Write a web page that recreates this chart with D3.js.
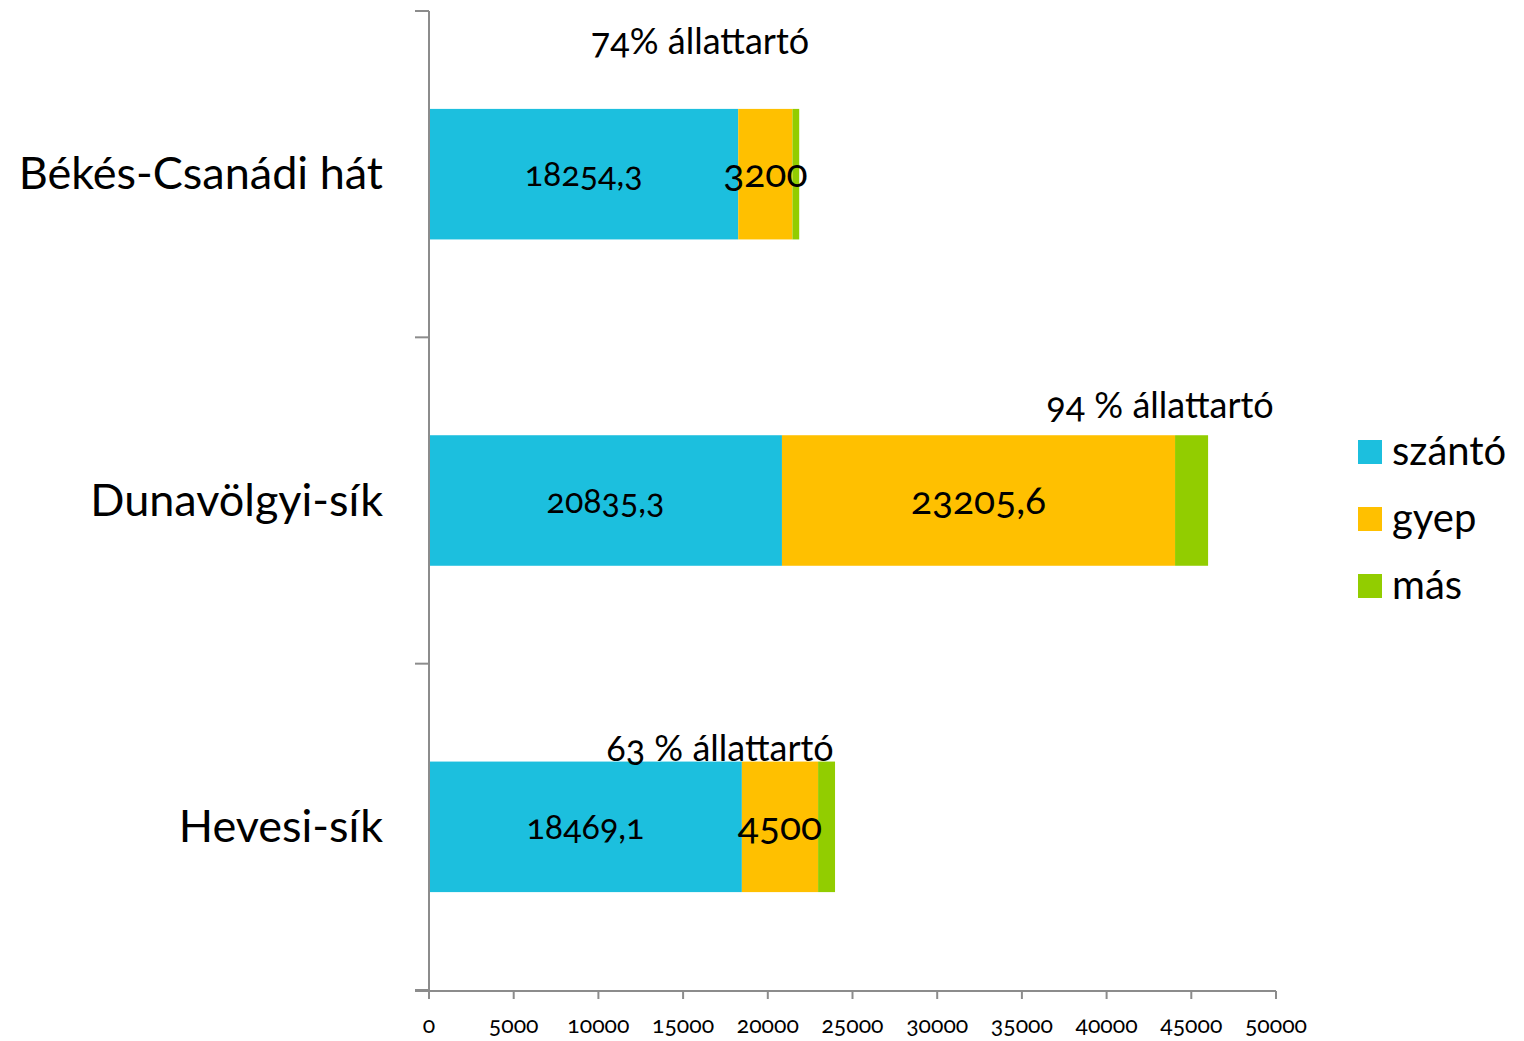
<!DOCTYPE html>
<html>
<head>
<meta charset="utf-8">
<script src="https://cdn.jsdelivr.net/npm/d3@7"></script>
<style>
  html, body { margin: 0; padding: 0; background: #fff; }
  svg text { font-family: Lato, "Open Sans", sans-serif; font-variant-numeric: oldstyle-nums; font-feature-settings: "onum" 1; fill: #000; }
</style>
</head>
<body>
<svg id="chart" width="1524" height="1041"></svg>
<script>
const categories = ["Békés-Csanádi hát", "Dunavölgyi-sík", "Hevesi-sík"];
const seriesNames = ["szántó", "gyep", "más"];
const szanto = [18254.3, 20835.3, 18469.1];
const gyep = [3200, 23205.6, 4500];
const mas = [400, 1950, 1000];
const szantoLabels = ["18254,3", "20835,3", "18469,1"];
const gyepLabels = ["3200", "23205,6", "4500"];
const notes = ["74% állattartó", "94 % állattartó", "63 % állattartó"];
const xTicks = [0, 5000, 10000, 15000, 20000, 25000, 30000, 35000, 40000, 45000, 50000];
const colors = ["#1cbfde", "#ffc000", "#92cd00"];

const svg = d3.select("#chart");
const x = d3.scaleLinear().domain([0, 50000]).range([429, 1276]);
const y = d3.scaleBand().domain(categories).range([11, 990]).paddingInner(0.6).paddingOuter(0.3);
const yb = d3.scaleBand().domain(categories).range([11, 990]);

const rows = categories.map((c, i) => ({cat: c, "szántó": szanto[i], "gyep": gyep[i], "más": mas[i]}));
const stack = d3.stack().keys(seriesNames)(rows);

const g = svg.append("g");
stack.forEach((layer, li) => {
  g.selectAll(null).data(layer).enter().append("rect")
    .attr("x", d => x(d[0]))
    .attr("width", d => x(d[1]) - x(d[0]))
    .attr("y", d => y(d.data.cat))
    .attr("height", y.bandwidth())
    .attr("fill", colors[li]);
});

// axes
const axisColor = "#8c8c8c";
svg.append("line").attr("x1", 429).attr("x2", 429).attr("y1", 11).attr("y2", 991).attr("stroke", axisColor).attr("stroke-width", 2);
[11].concat(categories.map(c => yb(c) + yb.bandwidth())).forEach(v => {
  svg.append("line").attr("x1", 415).attr("x2", 429).attr("y1", v).attr("y2", v).attr("stroke", axisColor).attr("stroke-width", 2);
});
svg.append("line").attr("x1", 415).attr("x2", 1276).attr("y1", 991).attr("y2", 991).attr("stroke", axisColor).attr("stroke-width", 2);
xTicks.forEach(t => {
  svg.append("line").attr("x1", x(t)).attr("x2", x(t)).attr("y1", 991).attr("y2", 999).attr("stroke", axisColor).attr("stroke-width", 2);
  svg.append("text").attr("x", x(t)).attr("y", 1033).attr("text-anchor", "middle").attr("font-size", 23).text(t);
});

// category labels
categories.forEach(c => {
  svg.append("text").attr("x", 383).attr("y", yb(c) + yb.bandwidth() / 2 + 15)
    .attr("text-anchor", "end").attr("font-size", 45).text(c);
});

// data labels
categories.forEach((c, i) => {
  const yc = y(c) + y.bandwidth() / 2 + 12;
  svg.append("text").attr("x", (x(0) + x(szanto[i])) / 2).attr("y", yc)
    .attr("text-anchor", "middle").attr("font-size", 34).text(szantoLabels[i]);
  svg.append("text").attr("x", (x(szanto[i]) + x(szanto[i] + gyep[i])) / 2).attr("y", yc + 1)
    .attr("text-anchor", "middle").attr("font-size", 39).text(gyepLabels[i]);
});

// annotations
const notePos = [[700, 54], [1160, 418], [720, 761]];
notes.forEach((n, i) => {
  svg.append("text").attr("x", notePos[i][0]).attr("y", notePos[i][1])
    .attr("text-anchor", "middle").attr("font-size", 36).text(n);
});

// legend
seriesNames.forEach((s, i) => {
  const ly = 440 + i * 67;
  svg.append("rect").attr("x", 1358).attr("y", ly).attr("width", 24).attr("height", 24).attr("fill", colors[i]);
  svg.append("text").attr("x", 1392).attr("y", ly + 25).attr("font-size", 40).text(s);
});
</script>
</body>
</html>
